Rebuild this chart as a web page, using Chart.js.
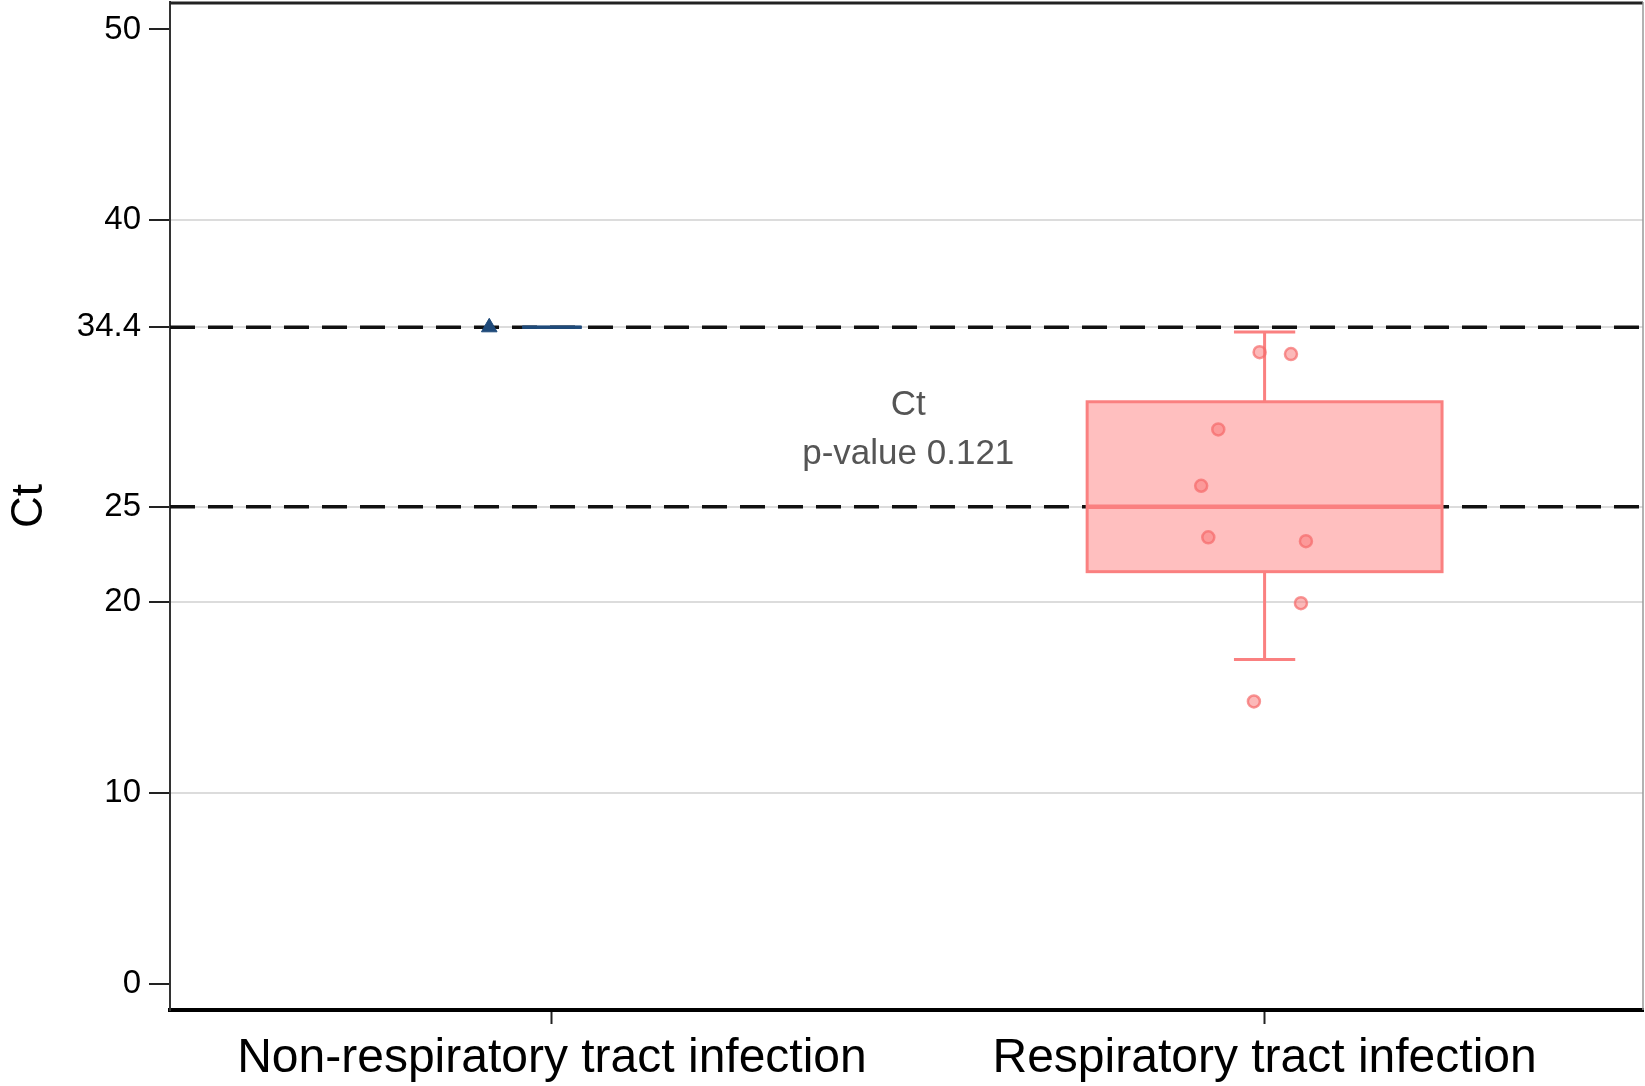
<!DOCTYPE html>
<html>
<head>
<meta charset="utf-8">
<script src="https://cdn.jsdelivr.net/npm/chart.js@4.4.1/dist/chart.umd.min.js"></script>
<style>
  html, body { margin: 0; padding: 0; background: #fff; }
  canvas { display: block; }
</style>
</head>
<body>
<canvas id="ctChart" width="1645" height="1086"></canvas>
<script>
// ---------------------------------------------------------------------------
// Data
// ---------------------------------------------------------------------------
const categories = ["Non-respiratory tract infection", "Respiratory tract infection"];
const xTickValues = [0, 1];
const yTickValues = [0, 10, 20, 25, 34.4, 40, 50];
const refLineValues = [34.4, 25];

// box statistics, one entry per category
const whiskerLow  = [34.4, 17.0];
const boxQ1       = [34.4, 21.6];
const boxMedian   = [34.4, 25.0];
const boxQ3       = [34.4, 30.5];
const whiskerHigh = [34.4, 34.15];

// individual observations
const nonRespX = [-0.088];
const nonRespCt = [34.4];
const respX = [0.993, 1.037, 0.935, 0.911, 0.921, 1.058, 1.051, 0.985];
const respCt = [33.1, 33.0, 29.05, 26.1, 23.4, 23.2, 19.95, 14.8];

// annotation text
const annotationLines = ["Ct", "p-value 0.121"];
const annotationX = 0.5;
const annotationY = [30.3, 27.75];

// ---------------------------------------------------------------------------
// Styles
// ---------------------------------------------------------------------------
const FONT = "'Liberation Sans', Arial, Helvetica, sans-serif";
const BLUE = "#1f4a7a";
const RED = "rgb(250,128,128)";
const boxStyles = [
  { width: 0.083, cap: 0.083, stroke: BLUE, fill: "rgba(0,0,0,0)", lw: 3, medianLw: 3 },
  { width: 0.498, cap: 0.086, stroke: RED, fill: "rgba(255,128,128,0.5)", lw: 3, medianLw: 4.5 },
];

// ---------------------------------------------------------------------------
// Plugins: background, reference lines + boxes, annotation, frame
// ---------------------------------------------------------------------------
const backgroundPlugin = {
  id: "whiteBg",
  beforeDraw(chart) {
    const ctx = chart.ctx;
    ctx.save();
    ctx.fillStyle = "#fff";
    ctx.fillRect(0, 0, chart.width, chart.height);
    ctx.restore();
  },
};

const boxPlugin = {
  id: "boxPlot",
  beforeDatasetsDraw(chart) {
    const { ctx, chartArea: area, scales: { x, y } } = chart;
    ctx.save();
    ctx.beginPath();
    ctx.rect(area.left, area.top, area.width, area.height);
    ctx.clip();

    // dashed threshold lines
    ctx.strokeStyle = "#111";
    ctx.lineWidth = 3.5;
    ctx.setLineDash([25, 13]);
    refLineValues.forEach((v) => {
      const py = y.getPixelForValue(v);
      ctx.beginPath();
      ctx.moveTo(area.left, py);
      ctx.lineTo(area.right, py);
      ctx.stroke();
    });
    ctx.setLineDash([]);

    // boxes and whiskers
    categories.forEach((_, i) => {
      const s = boxStyles[i];
      const cx = x.getPixelForValue(xTickValues[i]);
      const unit = x.getPixelForValue(1) - x.getPixelForValue(0);
      const half = (s.width * unit) / 2;
      const capHalf = (s.cap * unit) / 2;
      const yLo = y.getPixelForValue(whiskerLow[i]);
      const yQ1 = y.getPixelForValue(boxQ1[i]);
      const yMed = y.getPixelForValue(boxMedian[i]);
      const yQ3 = y.getPixelForValue(boxQ3[i]);
      const yHi = y.getPixelForValue(whiskerHigh[i]);

      ctx.strokeStyle = s.stroke;
      ctx.lineWidth = s.lw;

      // whiskers
      ctx.beginPath();
      ctx.moveTo(cx, yQ3); ctx.lineTo(cx, yHi);
      ctx.moveTo(cx - capHalf, yHi); ctx.lineTo(cx + capHalf, yHi);
      ctx.moveTo(cx, yQ1); ctx.lineTo(cx, yLo);
      ctx.moveTo(cx - capHalf, yLo); ctx.lineTo(cx + capHalf, yLo);
      ctx.stroke();

      // box
      ctx.fillStyle = s.fill;
      ctx.fillRect(cx - half, yQ3, half * 2, yQ1 - yQ3);
      ctx.strokeRect(cx - half, yQ3, half * 2, yQ1 - yQ3);

      // median
      ctx.lineWidth = s.medianLw;
      ctx.beginPath();
      ctx.moveTo(cx - half, yMed);
      ctx.lineTo(cx + half, yMed);
      ctx.stroke();
    });
    ctx.restore();
  },
  afterDatasetsDraw(chart) {
    const { ctx, scales: { x, y } } = chart;
    ctx.save();
    ctx.fillStyle = "#555";
    ctx.font = "35px " + FONT;
    ctx.textAlign = "center";
    ctx.textBaseline = "middle";
    annotationLines.forEach((t, i) => {
      ctx.fillText(t, x.getPixelForValue(annotationX), y.getPixelForValue(annotationY[i]));
    });
    ctx.restore();
  },
  afterDraw(chart) {
    const { ctx, chartArea: area } = chart;
    ctx.save();
    // top frame line
    ctx.strokeStyle = "#222";
    ctx.lineWidth = 3;
    ctx.beginPath();
    ctx.moveTo(area.left, area.top + 1);
    ctx.lineTo(area.right, area.top + 1);
    ctx.stroke();
    // right frame line
    ctx.strokeStyle = "#999";
    ctx.lineWidth = 1.5;
    ctx.beginPath();
    ctx.moveTo(area.right, area.top);
    ctx.lineTo(area.right, area.bottom);
    ctx.stroke();
    ctx.restore();
  },
};

// ---------------------------------------------------------------------------
// Chart
// ---------------------------------------------------------------------------
const chart = new Chart(document.getElementById("ctChart"), {
  type: "scatter",
  data: {
    datasets: [
      {
        label: categories[1],
        data: respX.map((xv, i) => ({ x: xv, y: respCt[i] })),
        pointStyle: "circle",
        pointRadius: 6,
        backgroundColor: "rgba(250,115,115,0.5)",
        borderColor: "rgba(245,105,105,0.7)",
        borderWidth: 2.5,
      },
      {
        label: categories[0],
        data: nonRespX.map((xv, i) => ({ x: xv, y: nonRespCt[i] })),
        pointStyle: "triangle",
        pointRadius: 9,
        backgroundColor: BLUE,
        borderColor: BLUE,
        borderWidth: 1,
      },
    ],
  },
  options: {
    responsive: false,
    animation: false,
    devicePixelRatio: 1,
    layout: { autoPadding: false, padding: { top: 2, right: 2, left: 0, bottom: 0 } },
    plugins: {
      legend: { display: false },
      tooltip: { enabled: false },
    },
    scales: {
      x: {
        type: "linear",
        min: -0.536,
        max: 1.531,
        afterBuildTicks: (scale) => {
          scale.ticks = xTickValues.map((v) => ({ value: v }));
        },
        afterFit: (scale) => {
          scale.height = 76;
          scale.paddingLeft = 0;
          scale.paddingRight = 0;
        },
        ticks: {
          autoSkip: false,
          maxRotation: 0,
          padding: 6,
          color: "#000",
          font: { family: FONT, size: 48 },
          callback: (v, i) => categories[i],
        },
        grid: {
          drawOnChartArea: false,
          drawTicks: true,
          tickLength: 14,
          tickColor: "#222",
          tickWidth: 2,
        },
        border: { display: true, color: "#000", width: 4 },
      },
      y: {
        type: "linear",
        min: -1.36,
        max: 51.44,
        afterBuildTicks: (scale) => {
          scale.ticks = yTickValues.map((v) => ({ value: v }));
        },
        afterFit: (scale) => {
          scale.width = 170;
          scale.paddingTop = 0;
          scale.paddingBottom = 0;
        },
        ticks: {
          autoSkip: false,
          padding: 8,
          color: "#000",
          font: { family: FONT, size: 33 },
          callback: (v) => String(v),
        },
        grid: {
          drawTicks: true,
          tickLength: 21,
          tickColor: "#222",
          tickWidth: 2,
          lineWidth: 2,
          color: (c) => (c.tick && (c.tick.value === 0 || c.tick.value === 50) ? "rgba(0,0,0,0)" : "#dcdcdc"),
        },
        border: { display: true, color: "#333", width: 2 },
        title: {
          display: true,
          text: "Ct",
          color: "#000",
          font: { family: FONT, size: 44 },
          padding: { top: 3, bottom: 0 },
        },
      },
    },
  },
  plugins: [backgroundPlugin, boxPlugin],
});
</script>
</body>
</html>
